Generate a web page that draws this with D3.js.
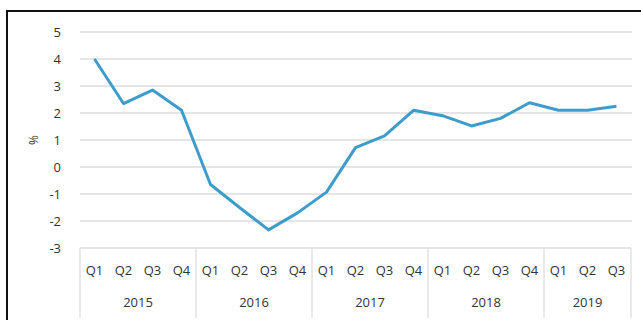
<!DOCTYPE html>
<html>
<head>
<meta charset="utf-8">
<script src="https://cdn.jsdelivr.net/npm/d3@7"></script>
<style>
  body { margin: 0; background: #fff; }
  svg text { font-family: "Open Sans", "Noto Sans", sans-serif; fill: #333; }
</style>
</head>
<body>
<svg id="chart"></svg>
<script>
var years = ['2015', '2016', '2017', '2018', '2019'];
var quarters = ['Q1', 'Q2', 'Q3', 'Q4'];
var periods = [
    '2015 Q1', '2015 Q2', '2015 Q3', '2015 Q4',
    '2016 Q1', '2016 Q2', '2016 Q3', '2016 Q4',
    '2017 Q1', '2017 Q2', '2017 Q3', '2017 Q4',
    '2018 Q1', '2018 Q2', '2018 Q3', '2018 Q4',
    '2019 Q1', '2019 Q2', '2019 Q3'
];
var growth = [4.0, 2.35, 2.85, 2.1, -0.65, -1.5, -2.33, -1.7, -0.93, 0.72, 1.15, 2.1,
              1.9, 1.52, 1.8, 2.38, 2.1, 2.1, 2.25];
var yTicks = [-3, -2, -1, 0, 1, 2, 3, 4, 5];

var width = 641, height = 320;
var svg = d3.select('#chart')
            .attr('width', width)
            .attr('height', height);

// frame
svg.append('path')
    .attr('d', 'M7,' + height + ' V11 H' + width)
    .attr('fill', 'none')
    .attr('stroke', '#111')
    .attr('stroke-width', 2);

var x = d3.scaleBand()
            .domain(periods)
            .range([80, 631]);

var y = d3.scaleLinear()
            .domain([-3, 5])
            .range([248, 32]);

// gridlines
svg.append('g')
    .selectAll('line')
    .data(yTicks.filter(d => d > -3))
    .enter()
    .append('line')
        .attr('x1', 80)
        .attr('x2', 632)
        .attr('y1', d => y(d))
        .attr('y2', d => y(d))
        .attr('stroke', '#dddddd')
        .attr('stroke-width', 1.3);

// y axis labels
svg.append('g')
    .selectAll('text')
    .data(yTicks)
    .enter()
    .append('text')
        .attr('x', 61)
        .attr('y', d => y(d))
        .attr('dy', '0.35em')
        .style('text-anchor', 'end')
        .style('font-size', '13px')
        .text(d => d);

svg.append('text')
    .attr('transform', 'translate(34,' + y(1) + ') rotate(-90)')
    .attr('dy', '0.35em')
    .style('text-anchor', 'middle')
    .style('font-size', '12px')
    .text('%');

// category axis box
var axisG = svg.append('g');
axisG.append('line')
    .attr('x1', 80).attr('x2', 631)
    .attr('y1', 248).attr('y2', 248)
    .attr('stroke', '#dddddd')
    .attr('stroke-width', 1.3);

var yearStarts = years.map(yr => x(yr + ' Q1'));
yearStarts.push(x.range()[1]);
axisG.selectAll('.sep')
    .data(yearStarts)
    .enter()
    .append('line')
        .classed('sep', true)
        .attr('x1', d => d).attr('x2', d => d)
        .attr('y1', 248).attr('y2', 318)
        .attr('stroke', '#dddddd')
        .attr('stroke-width', 1.3);

axisG.selectAll('.q')
    .data(periods)
    .enter()
    .append('text')
        .classed('q', true)
        .attr('x', d => x(d) + x.bandwidth() / 2)
        .attr('y', 270)
        .attr('dy', '0.35em')
        .style('text-anchor', 'middle')
        .style('font-size', '13px')
        .text(d => d.split(' ')[1]);

axisG.selectAll('.yr')
    .data(years)
    .enter()
    .append('text')
        .classed('yr', true)
        .attr('x', d => {
            var ps = periods.filter(p => p.startsWith(d));
            return (x(ps[0]) + x(ps[ps.length - 1]) + x.bandwidth()) / 2;
        })
        .attr('y', 302)
        .attr('dy', '0.35em')
        .style('text-anchor', 'middle')
        .style('font-size', '13px')
        .text(d => d);

// line
var line = d3.line()
    .x((d, i) => x(periods[i]) + x.bandwidth() / 2)
    .y(d => y(d));

svg.append('path')
    .datum(growth)
    .attr('d', line)
    .attr('fill', 'none')
    .attr('stroke', '#3d9ccc')
    .attr('stroke-width', 3)
    .attr('stroke-linejoin', 'round');
</script>
</body>
</html>
